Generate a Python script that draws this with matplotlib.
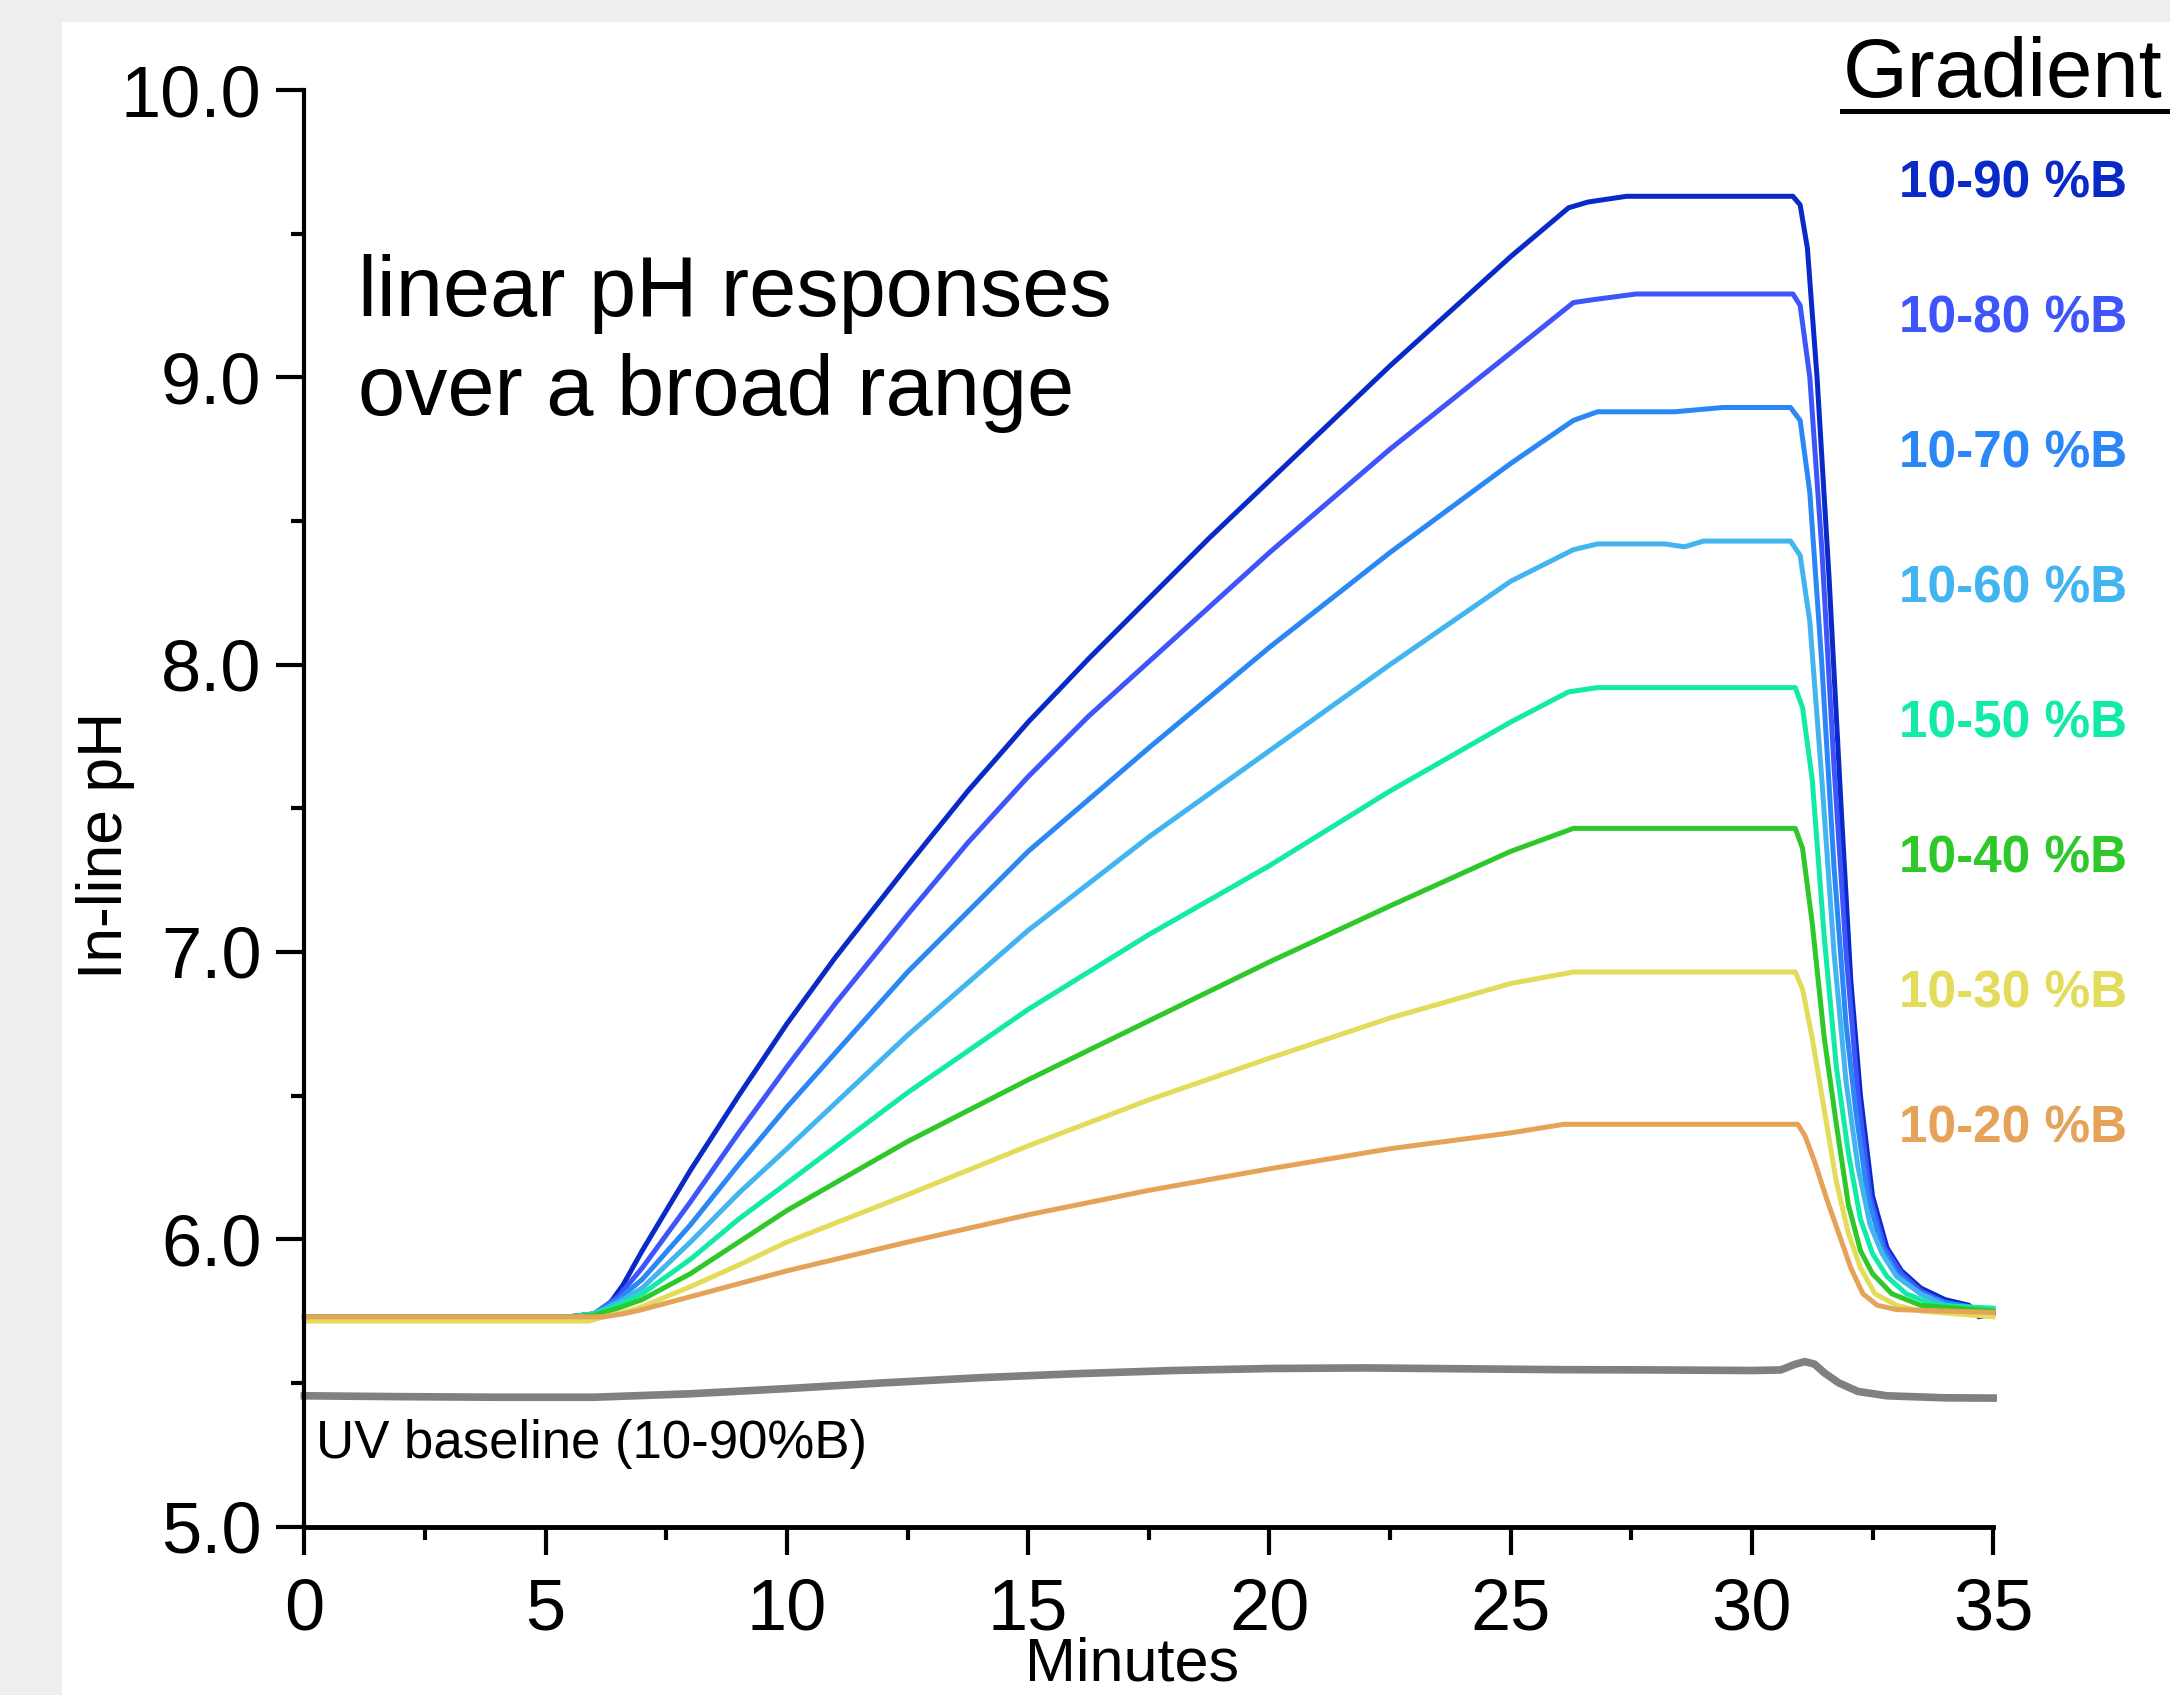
import matplotlib
matplotlib.use("Agg")
import matplotlib.pyplot as plt
from matplotlib.patches import Rectangle
from matplotlib.lines import Line2D

plt.rcParams['font.family'] = ['Liberation Sans', 'DejaVu Sans']

# gradient runs (minutes, pH)
labels = ['10-90 %B', '10-80 %B', '10-70 %B', '10-60 %B',
          '10-50 %B', '10-40 %B', '10-30 %B', '10-20 %B']
colors = ['#0a2ac8', '#3d55fa', '#2a87f5', '#42b4f0',
          '#12eaa8', '#2ec82a', '#e3dc5a', '#e5a35a']

t_90 = [0, 5.5, 6.0, 6.3, 6.6, 7.0, 7.5, 8, 9, 10, 11, 12.5, 13.75, 15, 16.25, 17.5,
        18.75, 20, 22.5, 25, 26.2, 26.6, 27.4,
        30.85, 31.0, 31.15, 31.35, 31.6, 31.85, 32.05, 32.25, 32.5, 32.8, 33.1, 33.5,
        34.0, 34.5, 34.7, 35]
ph_90 = [5.73, 5.73, 5.74, 5.77, 5.84, 5.96, 6.10, 6.24, 6.50, 6.75, 6.98, 7.30, 7.56,
         7.80, 8.02, 8.23, 8.44, 8.64, 9.04, 9.42,
         9.59, 9.61, 9.63, 9.63, 9.60, 9.45, 9.0, 8.3, 7.5, 6.9, 6.5, 6.15, 5.97, 5.89,
         5.83, 5.79, 5.77, 5.73, 5.74]

t_80 = [0, 5.5, 6.0, 6.5, 7, 8, 9, 10, 11, 12.5, 13.75, 15, 16.25, 17.5, 18.75, 20,
        22.5, 25, 26.3, 26.7, 27.6,
        30.85, 31.0, 31.2, 31.45, 31.7, 31.95, 32.2, 32.45, 32.75, 33.1, 33.5, 34.0,
        34.5, 35]
ph_80 = [5.73, 5.73, 5.74, 5.80, 5.90, 6.13, 6.37, 6.60, 6.82, 7.13, 7.38, 7.61, 7.82,
         8.01, 8.20, 8.39, 8.75, 9.085,
         9.26, 9.27, 9.29, 9.29, 9.25, 9.0, 8.4, 7.65, 7.0, 6.5, 6.15, 5.97, 5.88, 5.82,
         5.78, 5.76, 5.75]

t_70 = [0, 5.5, 6.0, 6.5, 7, 8, 9, 10, 12.5, 15, 17.5, 20, 22.5, 25, 26.3, 26.8, 28.4,
        29.4, 30.8, 31.0, 31.2, 31.45, 31.7, 31.95, 32.15, 32.4, 32.7, 33.0, 33.5,
        34.0, 35]
ph_70 = [5.73, 5.73, 5.74, 5.79, 5.86, 6.05, 6.26, 6.46, 6.93, 7.35, 7.71, 8.06, 8.39,
         8.70, 8.85, 8.88, 8.88, 8.895, 8.895, 8.85, 8.6, 8.0, 7.3, 6.75, 6.45, 6.15,
         5.97, 5.88, 5.81, 5.78, 5.75]

t_60 = [0, 5.5, 6.0, 6.5, 7, 8, 9, 10, 12.5, 15, 17.5, 20, 22.5, 25, 26.3, 26.8, 28.2,
        28.6, 29.0, 30.8, 31.0, 31.2, 31.45, 31.7, 31.95, 32.2, 32.45, 32.7, 33.0,
        33.5, 34.0, 35]
ph_60 = [5.73, 5.73, 5.74, 5.78, 5.83, 5.99, 6.16, 6.315, 6.71, 7.075, 7.40, 7.70, 8.00,
         8.29, 8.40, 8.42, 8.42, 8.41, 8.43, 8.43, 8.38, 8.15, 7.6, 7.0, 6.55, 6.25,
         6.05, 5.95, 5.87, 5.81, 5.77, 5.75]

t_50 = [0, 5.5, 6.0, 6.5, 7, 8, 9, 10, 12.5, 15, 17.5, 20, 22.5, 25, 26.2, 26.8, 30.9,
        31.05, 31.25, 31.5, 31.75, 32.0, 32.25, 32.5, 32.8, 33.2, 33.8, 35]
ph_50 = [5.73, 5.73, 5.74, 5.77, 5.81, 5.93, 6.07, 6.195, 6.51, 6.80, 7.06, 7.30, 7.56,
         7.80, 7.905, 7.92, 7.92, 7.85, 7.6, 7.05, 6.6, 6.3, 6.07, 5.95, 5.87, 5.81,
         5.77, 5.76]

t_40 = [0, 5.5, 6.0, 6.5, 7, 8, 9, 10, 12.5, 15, 17.5, 20, 22.5, 25, 26.3, 30.9, 31.05,
        31.25, 31.5, 31.75, 32.0, 32.25, 32.5, 32.9, 33.5, 35]
ph_40 = [5.73, 5.73, 5.735, 5.76, 5.79, 5.88, 5.99, 6.10, 6.34, 6.555, 6.76, 6.965,
         7.16, 7.35, 7.43, 7.43, 7.36, 7.1, 6.7, 6.4, 6.12, 5.96, 5.88, 5.81, 5.77, 5.75]

t_30 = [0, 5.9, 6.2, 6.6, 7, 8, 9, 10, 12.5, 15, 17.5, 20, 22.5, 25, 26.3, 30.9, 31.05,
        31.25, 31.5, 31.75, 32.0, 32.25, 32.55, 33.0, 33.5, 35]
ph_30 = [5.715, 5.715, 5.73, 5.745, 5.765, 5.835, 5.91, 5.99, 6.155, 6.325, 6.485,
         6.63, 6.77, 6.89, 6.93, 6.93, 6.87, 6.7, 6.45, 6.2, 6.02, 5.9, 5.81, 5.77,
         5.75, 5.73]

t_20 = [0, 6.2, 6.6, 7, 8, 9, 10, 12.5, 15, 17.5, 20, 22.5, 25, 26.1, 30.95, 31.1, 31.3,
        31.55, 31.8, 32.05, 32.3, 32.6, 33.0, 35]
ph_20 = [5.73, 5.73, 5.74, 5.755, 5.80, 5.845, 5.89, 5.99, 6.085, 6.17, 6.245, 6.315,
         6.37, 6.40, 6.40, 6.36, 6.27, 6.14, 6.02, 5.90, 5.81, 5.77, 5.755, 5.745]

# UV baseline trace (10-90 %B)
t_uv = [0, 2, 4, 6, 8, 10, 12, 14, 16, 18, 20, 22, 24, 26, 28, 30, 30.6, 30.9, 31.1,
        31.3, 31.5, 31.8, 32.2, 32.8, 34, 35]
ph_uv = [5.455, 5.452, 5.45, 5.45, 5.462, 5.48, 5.50, 5.518, 5.532, 5.543, 5.55, 5.552,
         5.549, 5.546, 5.545, 5.543, 5.545, 5.565, 5.574, 5.565, 5.535, 5.50, 5.47,
         5.455, 5.448, 5.447]

series_t = [t_90, t_80, t_70, t_60, t_50, t_40, t_30, t_20]
series_ph = [ph_90, ph_80, ph_70, ph_60, ph_50, ph_40, ph_30, ph_20]

W, H = 2170, 1695
fig = plt.figure(figsize=(W / 100, H / 100), dpi=100, facecolor='#eeeeee')
# white panel, kept behind the axes
fig.patches.append(Rectangle((62 / W, 0), 1 - 62 / W, 1 - 22 / H, transform=fig.transFigure,
                             facecolor='white', edgecolor='none', zorder=-5))

ax = fig.add_axes([0.1403, 0.0994, 0.7782, 0.8475])
ax.set_facecolor('none')

ax.plot(t_uv, ph_uv, color='#808080', lw=5.5, clip_on=False)
for t, ph, c in zip(series_t, series_ph, colors):
    ax.plot(t, ph, color=c, lw=3.6, clip_on=False)

ax.set_xlim(0, 35)
ax.set_ylim(5, 10)
ax.set_xticks(range(0, 36, 5))
ax.set_xticks([2.5 + 5 * i for i in range(7)], minor=True)
ax.set_yticks([5, 6, 7, 8, 9, 10])
ax.set_yticklabels(['5.0', '6.0', '7.0', '8.0', '9.0', '10.0'])
ax.set_yticks([5.5, 6.5, 7.5, 8.5, 9.5], minor=True)

for s in ['top', 'right']:
    ax.spines[s].set_visible(False)
ax.spines['left'].set_linewidth(3)
ax.spines['bottom'].set_linewidth(3.5)
ax.tick_params(which='major', length=20, width=3, labelsize=52)
ax.tick_params(which='minor', length=9.5, width=3)
ax.tick_params(axis='x', which='major', pad=17)
ax.tick_params(axis='y', which='major', pad=11)

ax.set_xlabel('Minutes', fontsize=44)
ax.xaxis.set_label_coords(0.49, -0.107)
ax.xaxis.label.set_va('baseline')
ax.set_ylabel('In-line pH', fontsize=45)
ax.yaxis.set_label_coords(-0.1176, 0.474)
ax.yaxis.label.set_va('center')

ax.text(1.1, 9.215, 'linear pH responses', fontsize=61, va='baseline')
ax.text(1.1, 8.868, 'over a broad range', fontsize=61, va='baseline')
ax.text(0.23, 5.24, 'UV baseline (10-90%B)', fontsize=38, va='baseline')

# gradient key on the right
fig.text(1843 / W, 1 - 97 / H, 'Gradient', fontsize=60, ha='left', va='baseline')
fig.add_artist(Line2D([1842 / W, 1.0], [1 - 111 / H] * 2, lw=3.6, color='black'))
for i, (lab, c) in enumerate(zip(labels, colors)):
    yb = 180 + i * 134.9 + 18
    fig.text(2127 / W, 1 - yb / H, lab, fontsize=37, fontweight='bold', color=c,
             ha='right', va='baseline')

fig.savefig('out.png', dpi=100, facecolor=fig.get_facecolor())
